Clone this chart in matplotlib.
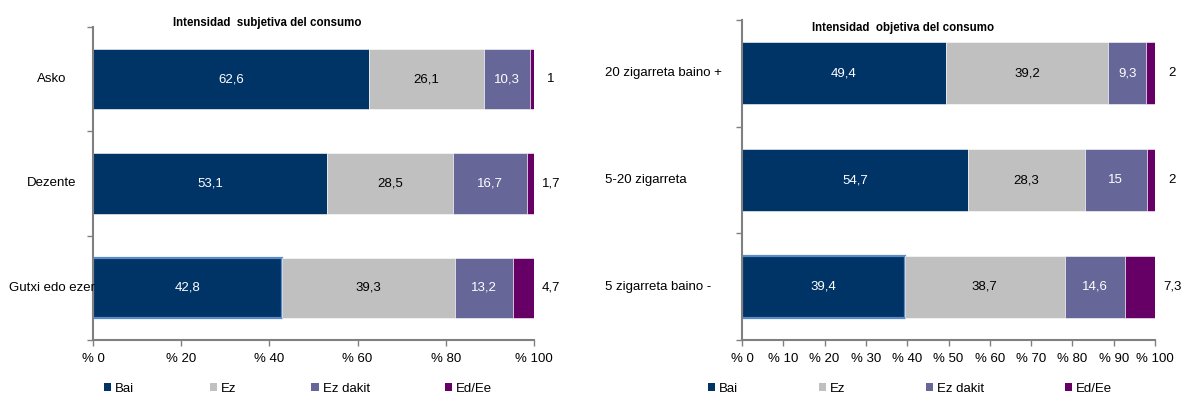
import numpy as np
import matplotlib.pyplot as plt
from matplotlib.patches import Patch
from matplotlib.transforms import blended_transform_factory, offset_copy

plt.rcParams['font.family'] = ['Liberation Sans', 'DejaVu Sans']

series = ['Bai', 'Ez', 'Ez dakit', 'Ed/Ee']
colors = ['#003366', '#C0C0C0', '#666699', '#660066']
text_colors = ['white', 'black', 'white', 'black']

subj_title = 'Intensidad  subjetiva del consumo'
subj_cats = ['Asko', 'Dezente', 'Gutxi edo ezer']
subj_bai = [62.6, 53.1, 42.8]
subj_ez = [26.1, 28.5, 39.3]
subj_ezdakit = [10.3, 16.7, 13.2]
subj_eded = [1, 1.7, 4.7]
subj_ticks = [0, 20, 40, 60, 80, 100]

obj_title = 'Intensidad  objetiva del consumo'
obj_cats = ['20 zigarreta baino +', '5-20 zigarreta', '5 zigarreta baino -']
obj_bai = [49.4, 54.7, 39.4]
obj_ez = [39.2, 28.3, 38.7]
obj_ezdakit = [9.3, 15, 14.6]
obj_eded = [2, 2, 7.3]
obj_ticks = [0, 10, 20, 30, 40, 50, 60, 70, 80, 90, 100]

FS = 9.5


def fmt(v):
    return ('%g' % v).replace('.', ',')


def draw(ax, cats, data, ticks, label_x, label_ha):
    y = np.arange(len(cats))
    left = np.zeros(len(cats))
    for k, vals in enumerate(data):
        vals = np.array(vals, dtype=float)
        bars = ax.barh(y, vals, left=left, height=0.58, color=colors[k],
                       edgecolor='white', linewidth=0.4)
        if k == 0:
            bars[-1].set_edgecolor('#5B8AC6')
            bars[-1].set_linewidth(1.6)
        for i, v in enumerate(vals):
            if k < 3:
                ax.text(left[i] + v / 2, y[i], fmt(v), ha='center', va='center',
                        color=text_colors[k], fontsize=FS)
            else:
                tr = offset_copy(ax.transData, fig=ax.figure, x=17, y=0, units='dots')
                ax.text(left[i] + v, y[i], fmt(v), ha='center', va='center',
                        color='black', fontsize=FS, transform=tr)
        left += vals

    ax.set_xlim(0, 100)
    ax.set_ylim(len(cats) - 0.5, -0.5)
    ax.set_xticks(ticks)
    ax.set_xticklabels(['%% %d' % t for t in ticks], fontsize=FS)
    ax.set_yticks([])
    ax.set_yticks(np.arange(len(cats) + 1) - 0.5, minor=True)
    ax.tick_params(axis='y', which='minor', length=4, color='#808080', width=1)
    ax.tick_params(axis='x', length=4, color='#808080', width=1, pad=5)
    for s in ['top', 'right']:
        ax.spines[s].set_visible(False)
    for s in ['left', 'bottom']:
        ax.spines[s].set_color('#808080')
        ax.spines[s].set_linewidth(1.5)
    trans = blended_transform_factory(ax.transAxes, ax.transData)
    for i, c in enumerate(cats):
        ax.text(label_x, i, c, ha=label_ha, va='center', fontsize=FS,
                transform=trans)


fig = plt.figure(figsize=(11.84, 3.96), dpi=100)
W, H = 1184, 396
ax1 = fig.add_axes([93 / W, 1 - 340 / H, (534 - 93) / W, (340 - 27) / H])
ax2 = fig.add_axes([742 / W, 1 - 340 / H, (1155 - 742) / W, (340 - 20) / H])

draw(ax1, subj_cats, [subj_bai, subj_ez, subj_ezdakit, subj_eded], subj_ticks,
     (52 - 93) / 441, 'center')
draw(ax2, obj_cats, [obj_bai, obj_ez, obj_ezdakit, obj_eded], obj_ticks,
     (605 - 742) / 413, 'left')

fig.text(267 / W, 1 - 23 / H, subj_title, ha='center', va='center',
         fontsize=8.3, fontweight='bold')
fig.text(903 / W, 1 - 28 / H, obj_title, ha='center', va='center',
         fontsize=8.3, fontweight='bold')

handles = [Patch(facecolor=c, label=s) for c, s in zip(colors, series)]
for x0, cs in [(104, 5.7), (708, 6.1)]:
    fig.legend(handles=handles, loc='center left', bbox_to_anchor=(x0 / W, 1 - 389 / H),
               ncol=4, frameon=False, fontsize=FS, handlelength=0.55,
               handleheight=0.55, handletextpad=0.3, columnspacing=cs,
               borderaxespad=0, borderpad=0)

fig.savefig('out.png', dpi=100)
